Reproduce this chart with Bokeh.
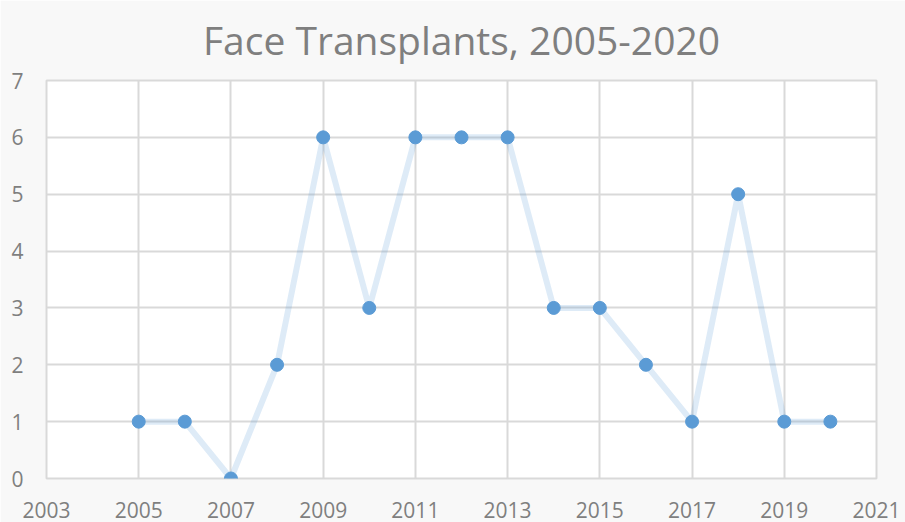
from bokeh.plotting import figure
from bokeh.models import ColumnDataSource, Range1d, FixedTicker
from bokeh.embed import file_html
from bokeh.resources import INLINE

title_text = "Face Transplants, 2005-2020"
years = [2005, 2006, 2007, 2008, 2009, 2010, 2011, 2012, 2013, 2014, 2015, 2016, 2017, 2018, 2019, 2020]
transplants = [1, 1, 0, 2, 6, 3, 6, 6, 6, 3, 3, 2, 1, 5, 1, 1]
x_ticks = [2003, 2005, 2007, 2009, 2011, 2013, 2015, 2017, 2019, 2021]
y_ticks = [0, 1, 2, 3, 4, 5, 6, 7]

src = ColumnDataSource(dict(x=years, y=transplants))

p = figure(width=905, height=522, output_backend="svg", toolbar_location=None,
           x_range=Range1d(2003, 2021), y_range=Range1d(0, 7),
           title=title_text,
           min_border_left=46, min_border_right=29, min_border_top=0, min_border_bottom=44)

p.title.align = "center"
p.title.vertical_align = "top"
p.title.text_font = "Open Sans"
p.title.text_font_size = "39px"
p.title.text_font_style = "normal"
p.title.text_color = "#7f7f7f"
p.title.offset = 14
p.title.standoff = 25

p.border_fill_color = "#f8f8f8"
p.background_fill_color = "white"
p.outline_line_color = "#d9d9d9"
p.outline_line_width = 2

p.xaxis.ticker = FixedTicker(ticks=x_ticks)
p.yaxis.ticker = FixedTicker(ticks=y_ticks)
for ax in (p.xaxis, p.yaxis):
    ax.axis_line_color = None
    ax.major_tick_line_color = None
    ax.minor_tick_line_color = None
    ax.major_label_text_font = "Open Sans"
    ax.major_label_text_font_size = "21px"
    ax.major_label_text_color = "#7f7f7f"
p.xaxis.major_label_standoff = 17
p.yaxis.major_label_standoff = 17

p.xgrid.ticker = FixedTicker(ticks=x_ticks)
p.ygrid.ticker = FixedTicker(ticks=y_ticks)
p.grid.grid_line_color = "#d9d9d9"
p.grid.grid_line_width = 2

p.line("x", "y", source=src, line_color="#5B9BD5", line_alpha=0.2, line_width=6)
p.scatter("x", "y", source=src, size=13, fill_color="#5B9BD5", line_color="#5B9BD5")

open("out.html", "w").write(file_html(p, INLINE))
